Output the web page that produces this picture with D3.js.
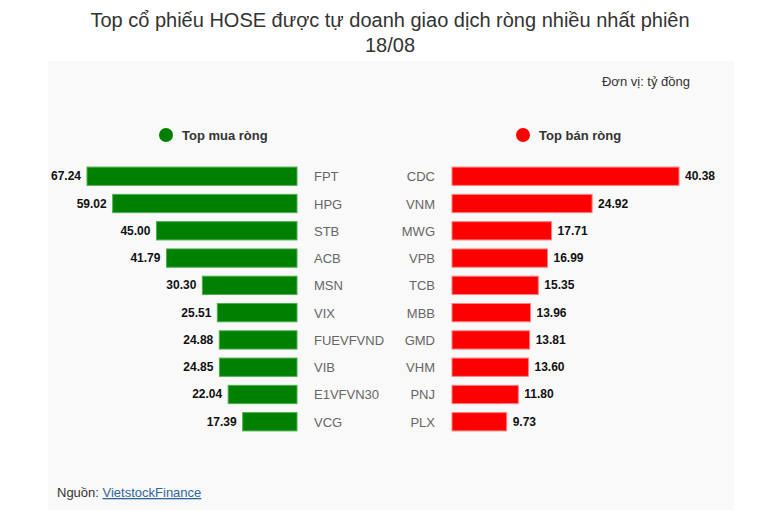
<!DOCTYPE html>
<html lang="vi">
<head>
<meta charset="UTF-8">
<title>Top cổ phiếu HOSE được tự doanh giao dịch ròng</title>
<script src="https://d3js.org/d3.v7.min.js"></script>
<style>
  body { margin: 0; font-family: "Liberation Sans", Arial, sans-serif; background: #fff; }
  svg text { font-family: "Liberation Sans", Arial, sans-serif; }
</style>
</head>
<body>
<svg width="757" height="527"></svg>
<script>
const buyTickers = ["FPT", "HPG", "STB", "ACB", "MSN", "VIX", "FUEVFVND", "VIB", "E1VFVN30", "VCG"];
const buyValues = [67.24, 59.02, 45.00, 41.79, 30.30, 25.51, 24.88, 24.85, 22.04, 17.39];
const sellTickers = ["CDC", "VNM", "MWG", "VPB", "TCB", "MBB", "GMD", "VHM", "PNJ", "PLX"];
const sellValues = [40.38, 24.92, 17.71, 16.99, 15.35, 13.96, 13.81, 13.60, 11.80, 9.73];

const svg = d3.select("svg");

// title
svg.append("text").attr("x", 390).attr("y", 27).attr("text-anchor", "middle")
  .attr("font-size", 20).attr("fill", "#333")
  .text("Top cổ phiếu HOSE được tự doanh giao dịch ròng nhiều nhất phiên");
svg.append("text").attr("x", 390).attr("y", 52).attr("text-anchor", "middle")
  .attr("font-size", 20).attr("fill", "#333").text("18/08");

// panel
svg.append("rect").attr("x", 48).attr("y", 61).attr("width", 686).attr("height", 449)
  .attr("fill", "#f9f9f9");

svg.append("text").attr("x", 690).attr("y", 86).attr("text-anchor", "end")
  .attr("font-size", 13).attr("fill", "#333").text("Đơn vị: tỷ đồng");

// legend
const legend = [
  { x: 166, color: "#008000", label: "Top mua ròng" },
  { x: 523, color: "#ff0000", label: "Top bán ròng" }
];
legend.forEach(l => {
  svg.append("circle").attr("cx", l.x).attr("cy", 135).attr("r", 7).attr("fill", l.color);
  svg.append("text").attr("x", l.x + 16).attr("y", 140).attr("font-size", 13)
    .attr("font-weight", "bold").attr("fill", "#333").text(l.label);
});

// rows
const y = d3.scaleBand().domain(d3.range(10)).range([163, 435]).paddingInner(0.33).paddingOuter(0.15);

// left (buy) side: bars grow leftwards from x=297
const xBuy = d3.scaleLinear().domain([0, d3.max(buyValues)]).range([297, 87]);
const gBuy = svg.append("g");
gBuy.selectAll("rect").data(buyValues).join("rect")
  .attr("x", d => xBuy(d)).attr("y", (d, i) => y(i))
  .attr("width", d => xBuy(0) - xBuy(d)).attr("height", y.bandwidth())
  .attr("fill", "#008000").attr("stroke", "#4caf50").attr("stroke-width", 1);
gBuy.selectAll("text.val").data(buyValues).join("text").attr("class", "val")
  .attr("x", d => xBuy(d) - 6).attr("y", (d, i) => y(i) + y.bandwidth() / 2 + 4)
  .attr("text-anchor", "end").attr("font-size", 12).attr("font-weight", "bold").attr("fill", "#111")
  .text(d => d3.format(".2f")(d));
gBuy.selectAll("text.tk").data(buyTickers).join("text").attr("class", "tk")
  .attr("x", 314).attr("y", (d, i) => y(i) + y.bandwidth() / 2 + 5)
  .attr("font-size", 13).attr("fill", "#666").text(d => d);

// right (sell) side: bars grow rightwards from x=452
const xSell = d3.scaleLinear().domain([0, d3.max(sellValues)]).range([452, 679]);
const gSell = svg.append("g");
gSell.selectAll("rect").data(sellValues).join("rect")
  .attr("x", xSell(0)).attr("y", (d, i) => y(i))
  .attr("width", d => xSell(d) - xSell(0)).attr("height", y.bandwidth())
  .attr("fill", "#ff0000").attr("stroke", "#ff8080").attr("stroke-width", 1);
gSell.selectAll("text.val").data(sellValues).join("text").attr("class", "val")
  .attr("x", d => xSell(d) + 6).attr("y", (d, i) => y(i) + y.bandwidth() / 2 + 4)
  .attr("font-size", 12).attr("font-weight", "bold").attr("fill", "#111")
  .text(d => d3.format(".2f")(d));
gSell.selectAll("text.tk").data(sellTickers).join("text").attr("class", "tk")
  .attr("x", 435).attr("y", (d, i) => y(i) + y.bandwidth() / 2 + 5)
  .attr("text-anchor", "end").attr("font-size", 13).attr("fill", "#666").text(d => d);

// source
const src = svg.append("text").attr("x", 57).attr("y", 497).attr("font-size", 13).attr("fill", "#333");
src.append("tspan").text("Nguồn: ");
src.append("tspan").attr("fill", "#336699").attr("text-decoration", "underline").text("VietstockFinance");
</script>
</body>
</html>
